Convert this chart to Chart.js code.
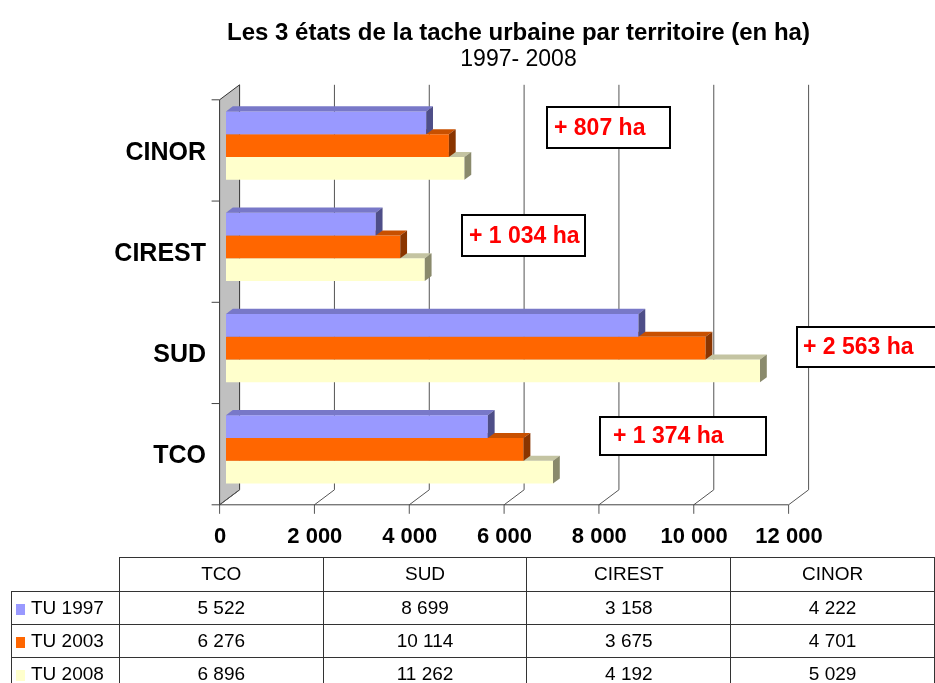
<!DOCTYPE html>
<html>
<head>
<meta charset="utf-8">
<script src="https://cdn.jsdelivr.net/npm/chart.js@4.4.1/dist/chart.umd.min.js"></script>
<style>
  body { margin: 0; width: 935px; height: 683px; overflow: hidden; background: #fff; }
  #c { position: absolute; left: 0; top: 0; }
  #tbl {
    position: absolute; left: 11px; top: 557px;
    border-collapse: collapse; table-layout: fixed;
    font-family: "Liberation Sans", Arial, sans-serif; font-size: 19px; color: #000;
  }
  #tbl td { border: 1px solid #333; text-align: center; padding: 0; height: 32px; }
  #tbl td.name { text-align: left; padding-left: 4px; }
  #tbl td.corner { border-top: none; border-left: none; }
  .sw { display: inline-block; width: 9px; height: 11px; margin-right: 6px; vertical-align: -1px; }
</style>
</head>
<body>
<canvas id="c" width="935" height="683"></canvas>
<table id="tbl"></table>
<script>
var categories = ["TCO", "SUD", "CIREST", "CINOR"];
var seriesNames = ["TU 1997", "TU 2003", "TU 2008"];
var tu1997 = [5522, 8699, 3158, 4222];
var tu2003 = [6276, 10114, 3675, 4701];
var tu2008 = [6896, 11262, 4192, 5029];
var xTicks = [0, 2000, 4000, 6000, 8000, 10000, 12000];

var frontColors = ["#9999FF", "#FF6600", "#FFFFCC"];
var topColors = ["#7878C8", "#C85000", "#C4C4A2"];
var sideColors = ["#4E4E88", "#8A3500", "#8A8A6C"];

// where the "+ ... ha" boxes sit (px)
var gainBoxes = {
  CINOR: { x: 547, y: 107, w: 123, h: 41, pad: 7 },
  CIREST: { x: 462, y: 215, w: 123, h: 41, pad: 7 },
  SUD: { x: 797, y: 327, w: 160, h: 40, pad: 6 },
  TCO: { x: 600, y: 417, w: 166, h: 38, pad: 13 }
};

var FONT = '"Liberation Sans", Arial, sans-serif';

function fmt(n) {
  return String(n).replace(/\B(?=(\d{3})+(?!\d))/g, " ");
}

// data table under the chart
var series = [tu1997, tu2003, tu2008];
var html = '<colgroup><col style="width:108px">';
for (var i = 0; i < categories.length; i++) html += '<col style="width:204px">';
html += '</colgroup><tr><td class="corner" style="height:33px"></td>';
categories.forEach(function (c) { html += "<td>" + c + "</td>"; });
html += "</tr>";
series.forEach(function (s, k) {
  html += '<tr><td class="name"><span class="sw" style="background:' + frontColors[k] + '"></span>' + seriesNames[k] + "</td>";
  s.forEach(function (v) { html += "<td>" + fmt(v) + "</td>"; });
  html += "</tr>";
});
document.getElementById("tbl").innerHTML = html;

// chart draws top to bottom, so flip the category order
var chartLabels = categories.slice().reverse();

var FDX = -6.4, FDY = 4.8;   // bar plane -> front plane
var BDX = 13.6, BDY = -10.2; // bar plane -> back wall
var DX = 6.8, DY = -5.1;     // bar depth

var frame3d = {
  id: "frame3d",
  beforeDatasetsDraw: function (chart) {
    var ctx = chart.ctx, a = chart.chartArea, x = chart.scales.x, y = chart.scales.y;
    var fTop = a.top + FDY, fBot = a.bottom + FDY, bTop = a.top + BDY, bBot = a.bottom + BDY;
    var x0 = x.getPixelForValue(0);
    ctx.save();
    // side wall
    ctx.beginPath();
    ctx.moveTo(x0 + FDX, fTop);
    ctx.lineTo(x0 + BDX, bTop);
    ctx.lineTo(x0 + BDX, bBot);
    ctx.lineTo(x0 + FDX, fBot);
    ctx.closePath();
    ctx.fillStyle = "#C0C0C0";
    ctx.fill();
    ctx.strokeStyle = "#333";
    ctx.lineWidth = 1;
    ctx.stroke();
    // grid on back wall + floor diagonals + ticks
    xTicks.forEach(function (v) {
      var px = x.getPixelForValue(v);
      ctx.strokeStyle = "#555";
      ctx.beginPath();
      if (v > 0) {
        ctx.moveTo(px + BDX, bTop);
        ctx.lineTo(px + BDX, bBot);
      }
      ctx.moveTo(px + BDX, bBot);
      ctx.lineTo(px + FDX, fBot);
      ctx.moveTo(px + FDX, fBot);
      ctx.lineTo(px + FDX, fBot + 9);
      ctx.stroke();
    });
    ctx.strokeStyle = "#444";
    ctx.beginPath();
    ctx.moveTo(x0 + FDX, fBot);
    ctx.lineTo(x.getPixelForValue(xTicks[xTicks.length - 1]) + FDX, fBot);
    // category ticks on the left edge
    var band = y.getPixelForValue(1) - y.getPixelForValue(0);
    for (var i = 0; i <= chartLabels.length; i++) {
      var py = y.getPixelForValue(0) - band / 2 + i * band + FDY;
      ctx.moveTo(x0 + FDX - 8, py);
      ctx.lineTo(x0 + FDX, py);
    }
    ctx.stroke();
    ctx.restore();
  },
  afterDatasetDraw: function (chart, args) {
    var ctx = chart.ctx, k = args.index;
    ctx.save();
    args.meta.data.forEach(function (el) {
      var t = el.y - el.height / 2, b = el.y + el.height / 2, x0 = el.base, x1 = el.x;
      ctx.fillStyle = topColors[k];
      ctx.beginPath();
      ctx.moveTo(x0, t); ctx.lineTo(x1, t); ctx.lineTo(x1 + DX, t + DY); ctx.lineTo(x0 + DX, t + DY);
      ctx.closePath(); ctx.fill();
      ctx.fillStyle = sideColors[k];
      ctx.beginPath();
      ctx.moveTo(x1, t); ctx.lineTo(x1 + DX, t + DY); ctx.lineTo(x1 + DX, b + DY); ctx.lineTo(x1, b);
      ctx.closePath(); ctx.fill();
    });
    ctx.restore();
  },
  afterDraw: function (chart) {
    var ctx = chart.ctx;
    ctx.save();
    ctx.fillStyle = "#000";
    ctx.textAlign = "center";
    ctx.textBaseline = "alphabetic";
    ctx.font = "bold 24px " + FONT;
    ctx.fillText("Les 3 états de la tache urbaine par territoire (en ha)", 518.5, 39.5);
    ctx.font = "23px " + FONT;
    ctx.fillText("1997- 2008", 518.5, 66);
    // gain boxes
    categories.forEach(function (c, i) {
      var bx = gainBoxes[c];
      ctx.fillStyle = "#fff";
      ctx.fillRect(bx.x, bx.y, bx.w, bx.h);
      ctx.strokeStyle = "#000";
      ctx.lineWidth = 2;
      ctx.strokeRect(bx.x, bx.y, bx.w, bx.h);
      ctx.fillStyle = "#FF0000";
      ctx.font = "bold 23px " + FONT;
      ctx.textAlign = "left";
      ctx.textBaseline = "middle";
      ctx.fillText("+ " + fmt(tu2008[i] - tu1997[i]) + " ha", bx.x + bx.pad, bx.y + bx.h / 2 + 1);
    });
    ctx.restore();
  }
};

new Chart(document.getElementById("c"), {
  type: "bar",
  data: {
    labels: chartLabels,
    datasets: series.map(function (s, k) {
      return {
        label: seriesNames[k],
        data: s.slice().reverse(),
        backgroundColor: frontColors[k],
        borderWidth: 0,
        categoryPercentage: 0.675,
        barPercentage: 1
      };
    })
  },
  options: {
    indexAxis: "y",
    responsive: false,
    animation: false,
    layout: { padding: { left: 0, right: 140, top: 95, bottom: 123 } },
    plugins: { legend: { display: false }, title: { display: false }, tooltip: { enabled: false } },
    scales: {
      x: {
        min: 0, max: 12000,
        afterBuildTicks: function (s) { s.ticks = xTicks.map(function (v) { return { value: v }; }); },
        afterFit: function (s) { s.height = 60; },
        grid: { display: false, drawTicks: false },
        border: { display: false },
        ticks: {
          autoSkip: false, maxRotation: 0, labelOffset: -6, padding: 24, color: "#000",
          font: { family: FONT, size: 22, weight: "bold" },
          callback: function (v) { return fmt(v); }
        }
      },
      y: {
        afterFit: function (s) { s.width = 226; },
        grid: { display: false, drawTicks: false },
        border: { display: false },
        ticks: { padding: 20, labelOffset: 7, color: "#000", font: { family: FONT, size: 25, weight: "bold" } }
      }
    }
  },
  plugins: [frame3d]
});
</script>
</body>
</html>
